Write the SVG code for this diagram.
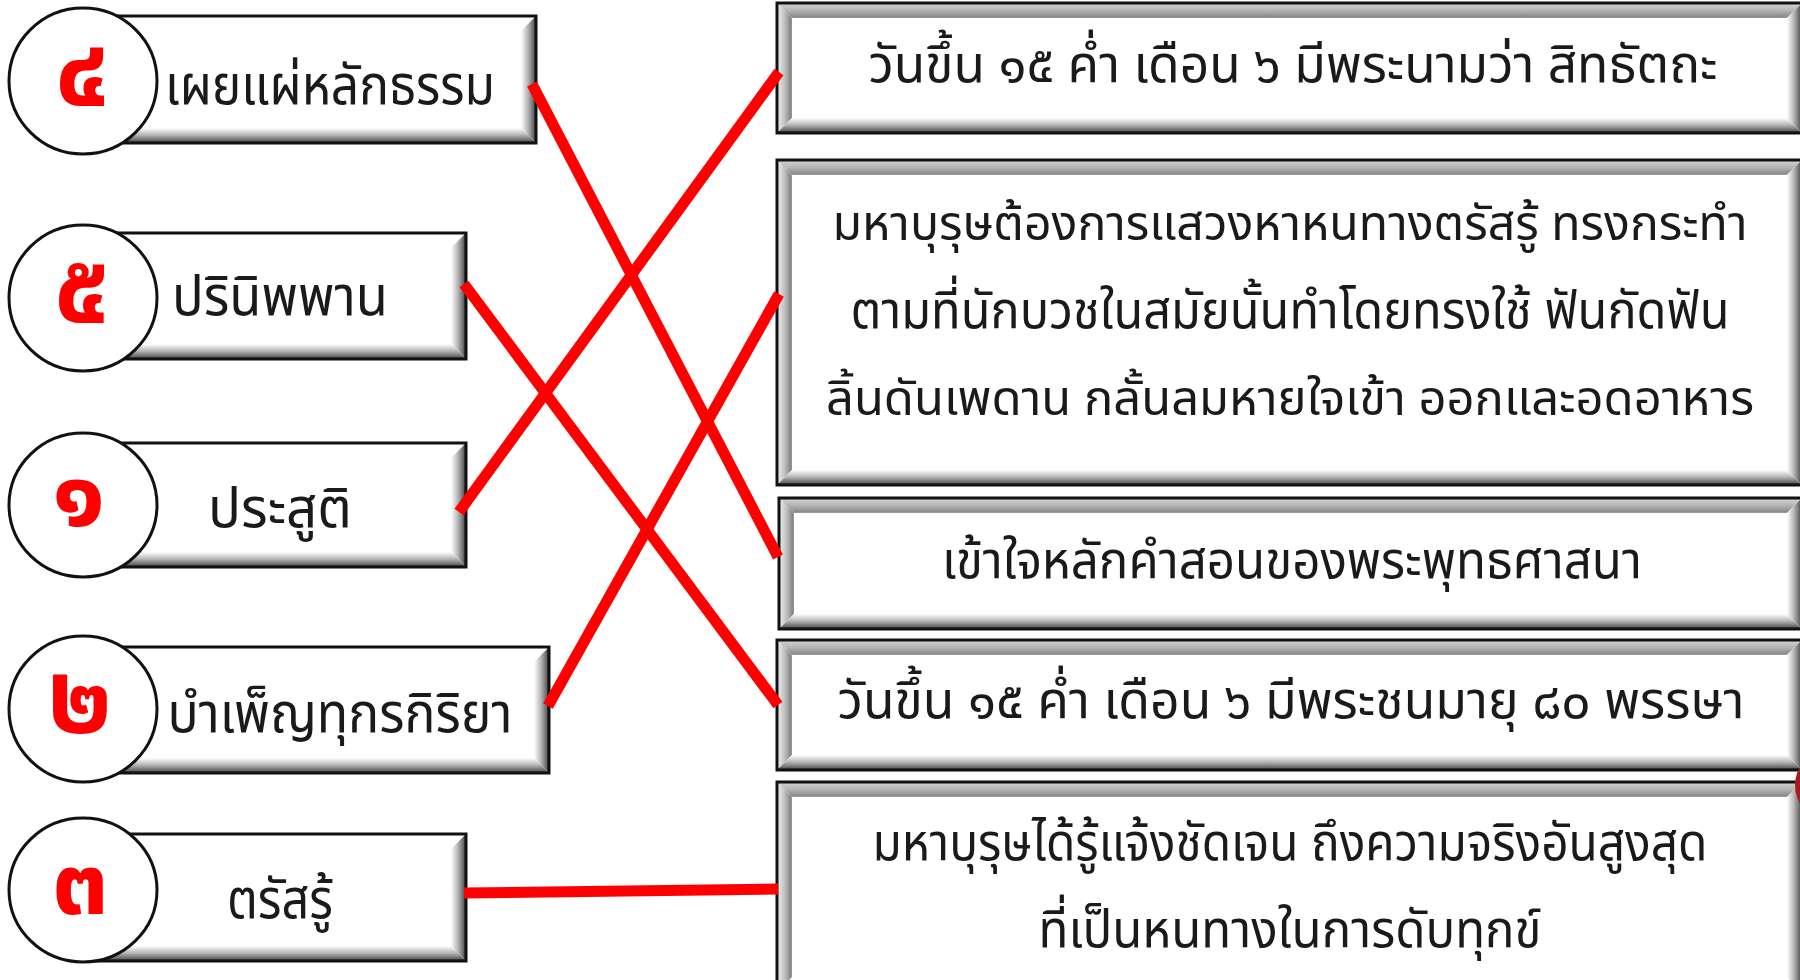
<svg xmlns="http://www.w3.org/2000/svg" width="1800" height="980" viewBox="0 0 1800 980">
<defs>
<linearGradient id="gB" x1="0" y1="1" x2="0" y2="0"><stop offset="0" stop-color="#2e2e2e"/><stop offset="0.18" stop-color="#6a6a6a"/><stop offset="0.55" stop-color="#b8b8b8"/><stop offset="1" stop-color="#ffffff"/></linearGradient>
<linearGradient id="gR" x1="1" y1="0" x2="0" y2="0"><stop offset="0" stop-color="#2e2e2e"/><stop offset="0.18" stop-color="#6a6a6a"/><stop offset="0.55" stop-color="#b8b8b8"/><stop offset="1" stop-color="#ffffff"/></linearGradient>
<linearGradient id="gT" x1="0" y1="0" x2="0" y2="1"><stop offset="0" stop-color="#d6d6d6"/><stop offset="0.5" stop-color="#b4b4b4"/><stop offset="0.9" stop-color="#8c8c8c"/><stop offset="1" stop-color="#9e9e9e"/></linearGradient>
<linearGradient id="gL" x1="0" y1="0" x2="1" y2="0"><stop offset="0" stop-color="#f0f0f0"/><stop offset="0.5" stop-color="#c0c0c0"/><stop offset="0.9" stop-color="#888888"/><stop offset="1" stop-color="#9a9a9a"/></linearGradient>
</defs>
<style>
.box{fill:#ffffff;}
.edge{fill:none;stroke:#111111;stroke-width:3;}
.bb{fill:url(#gB);}
.br{fill:url(#gR);}
.bt{fill:url(#gT);}
.bl{fill:url(#gL);}
.circ{fill:#ffffff;stroke:#111111;stroke-width:3;}
.num{font-family:"Noto Sans Thai","Noto Sans","DejaVu Sans",sans-serif;font-size:100px;font-weight:bold;fill:#ff0000;text-anchor:middle;}
.lt{font-family:"Noto Sans Thai","Noto Sans","DejaVu Sans",sans-serif;font-size:56px;fill:#1a1a1a;text-anchor:middle;}
.rt{font-family:"Noto Sans Thai","Noto Sans","DejaVu Sans",sans-serif;font-size:52px;fill:#1a1a1a;text-anchor:middle;}
.rs{font-size:49px;}
.con{stroke:#ff0000;stroke-width:11;fill:none;stroke-linecap:butt;}
</style>
<rect width="1800" height="980" fill="#ffffff"/>

<g id="right-1">
<rect class="box" x="777" y="3" width="1025" height="130"/>
<polygon class="bt" points="777,3 1802,3 1787,18 792,18"/>
<polygon class="bl" points="777,3 792,18 792,118 777,133"/>
<polygon class="bb" points="777,133 1802,133 1787,118 792,118"/>
<polygon class="br" points="1802,3 1787,18 1787,118 1802,133"/>
<rect class="edge" x="777" y="3" width="1025" height="130"/>
<text class="rt" x="1293" y="82" textLength="849" lengthAdjust="spacingAndGlyphs">วันขึ้น ๑๕ ค่ำ เดือน ๖ มีพระนามว่า สิทธัตถะ</text>
</g>

<g id="right-2">
<rect class="box" x="777" y="160" width="1025" height="325"/>
<polygon class="bt" points="777,160 1802,160 1787,175 792,175"/>
<polygon class="bl" points="777,160 792,175 792,470 777,485"/>
<polygon class="bb" points="777,485 1802,485 1787,470 792,470"/>
<polygon class="br" points="1802,160 1787,175 1787,470 1802,485"/>
<rect class="edge" x="777" y="160" width="1025" height="325"/>
<text class="rt rs" x="1290" y="240" textLength="915" lengthAdjust="spacingAndGlyphs">มหาบุรุษต้องการแสวงหาหนทางตรัสรู้ ทรงกระทำ</text>
<text class="rt" x="1290" y="328" textLength="879" lengthAdjust="spacingAndGlyphs">ตามที่นักบวชในสมัยนั้นทำโดยทรงใช้ ฟันกัดฟัน</text>
<text class="rt rs" x="1290" y="415" textLength="928" lengthAdjust="spacingAndGlyphs">ลิ้นดันเพดาน กลั้นลมหายใจเข้า ออกและอดอาหาร</text>
</g>

<g id="right-3">
<rect class="box" x="779" y="498" width="1023" height="131"/>
<polygon class="bt" points="779,498 1802,498 1787,513 794,513"/>
<polygon class="bl" points="779,498 794,513 794,614 779,629"/>
<polygon class="bb" points="779,629 1802,629 1787,614 794,614"/>
<polygon class="br" points="1802,498 1787,513 1787,614 1802,629"/>
<rect class="edge" x="779" y="498" width="1023" height="131"/>
<text class="rt" x="1292" y="578" textLength="700" lengthAdjust="spacingAndGlyphs">เข้าใจหลักคำสอนของพระพุทธศาสนา</text>
</g>

<g id="right-4">
<rect class="box" x="777" y="640" width="1025" height="130"/>
<polygon class="bt" points="777,640 1802,640 1787,655 792,655"/>
<polygon class="bl" points="777,640 792,655 792,755 777,770"/>
<polygon class="bb" points="777,770 1802,770 1787,755 792,755"/>
<polygon class="br" points="1802,640 1787,655 1787,755 1802,770"/>
<rect class="edge" x="777" y="640" width="1025" height="130"/>
<text class="rt" x="1291" y="718" textLength="907" lengthAdjust="spacingAndGlyphs">วันขึ้น ๑๕ ค่ำ เดือน ๖ มีพระชนมายุ ๘๐ พรรษา</text>
</g>

<g id="right-5">
<rect class="box" x="777" y="782" width="1025" height="210"/>
<polygon class="bt" points="777,782 1802,782 1787,797 792,797"/>
<polygon class="bl" points="777,782 792,797 792,977 777,992"/>
<polygon class="br" points="1802,782 1787,797 1787,977 1802,992"/>
<rect class="edge" x="777" y="782" width="1025" height="210"/>
<text class="rt" x="1290" y="860" textLength="835" lengthAdjust="spacingAndGlyphs">มหาบุรุษได้รู้แจ้งชัดเจน ถึงความจริงอันสูงสุด</text>
<text class="rt" x="1290" y="947" textLength="503" lengthAdjust="spacingAndGlyphs">ที่เป็นหนทางในการดับทุกข์</text>
</g>

<g id="left-4">
<rect class="box" x="95" y="16" width="441" height="127"/>
<polygon class="bb" points="95,143 536,143 521,128 95,128"/>
<polygon class="br" points="536,16 521,31 521,128 536,143"/>
<rect class="edge" x="95" y="16" width="441" height="127"/>
<ellipse class="circ" cx="83" cy="81" rx="74" ry="73"/>
<text class="num" x="82" y="106">๔</text>
<text class="lt" x="330" y="104" textLength="330" lengthAdjust="spacingAndGlyphs">เผยแผ่หลักธรรม</text>
</g>

<g id="left-5">
<rect class="box" x="95" y="233" width="371" height="126"/>
<polygon class="bb" points="95,359 466,359 451,344 95,344"/>
<polygon class="br" points="466,233 451,248 451,344 466,359"/>
<rect class="edge" x="95" y="233" width="371" height="126"/>
<ellipse class="circ" cx="83" cy="298" rx="74" ry="73"/>
<text class="num" x="82" y="323">๕</text>
<text class="lt" x="280" y="315" textLength="216" lengthAdjust="spacingAndGlyphs">ปรินิพพาน</text>
</g>

<g id="left-1">
<rect class="box" x="95" y="443" width="371" height="124"/>
<polygon class="bb" points="95,567 466,567 451,552 95,552"/>
<polygon class="br" points="466,443 451,458 451,552 466,567"/>
<rect class="edge" x="95" y="443" width="371" height="124"/>
<ellipse class="circ" cx="83" cy="505" rx="74" ry="72"/>
<text class="num" x="79" y="526">๑</text>
<text class="lt" x="280" y="527" textLength="144" lengthAdjust="spacingAndGlyphs">ประสูติ</text>
</g>

<g id="left-2">
<rect class="box" x="95" y="647" width="454" height="126"/>
<polygon class="bb" points="95,773 549,773 534,758 95,758"/>
<polygon class="br" points="549,647 534,662 534,758 549,773"/>
<rect class="edge" x="95" y="647" width="454" height="126"/>
<ellipse class="circ" cx="83" cy="709" rx="74" ry="73"/>
<text class="num" x="80" y="733">๒</text>
<text class="lt" x="340" y="732" textLength="345" lengthAdjust="spacingAndGlyphs">บำเพ็ญทุกรกิริยา</text>
</g>

<g id="left-3">
<rect class="box" x="95" y="834" width="371" height="127"/>
<polygon class="bb" points="95,961 466,961 451,946 95,946"/>
<polygon class="br" points="466,834 451,849 451,946 466,961"/>
<rect class="edge" x="95" y="834" width="371" height="127"/>
<ellipse class="circ" cx="83" cy="890" rx="74" ry="72"/>
<text class="num" x="80" y="914">๓</text>
<text class="lt" x="280" y="918" textLength="106" lengthAdjust="spacingAndGlyphs">ตรัสรู้</text>
</g>

<g id="connectors">
<line class="con" x1="532" y1="84" x2="778" y2="557"/>
<line class="con" x1="459" y1="512" x2="779" y2="72"/>
<line class="con" x1="464" y1="284" x2="778" y2="705"/>
<line class="con" x1="548" y1="706" x2="779" y2="294"/>
<line class="con" x1="464" y1="893" x2="778" y2="889"/>
</g>

<circle cx="1830" cy="785" r="35" fill="#a51c1c"/>
</svg>
